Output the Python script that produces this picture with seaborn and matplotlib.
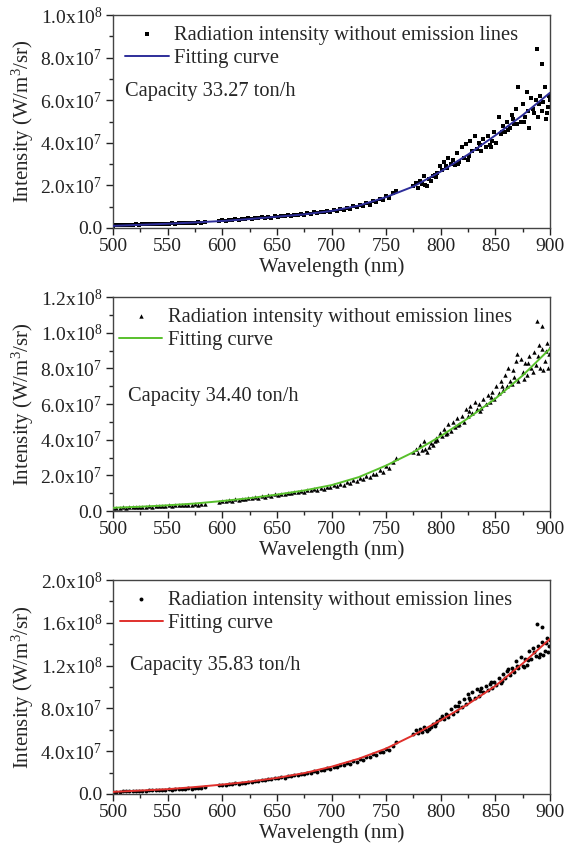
import matplotlib
matplotlib.use("Agg")
import matplotlib.pyplot as plt
from matplotlib.ticker import FixedLocator, FuncFormatter, MultipleLocator
import seaborn as sns
import pandas as pd

# ---------------- data (intensity in units of 1e7 W/m^3/sr) ----------------
wl_low = [500, 503, 506, 509, 512, 515, 518, 521, 524, 527, 530, 533, 536, 539, 542,
          545, 548, 551, 554, 557, 560, 563, 566, 569, 572, 575, 578, 581, 584]
wl_mid = [597, 600, 603, 606, 609, 612, 615, 618, 621, 624, 627, 630, 633, 636, 639,
          642, 645, 648, 651, 654, 657, 660, 663, 666, 669, 672, 675, 678, 681, 684,
          687, 690, 693, 696, 699, 702, 705, 708, 711, 714, 717, 720, 723, 726, 729,
          732, 735, 738, 741, 744, 747, 750, 753, 756, 759]
wl_high = [775, 777, 779, 781, 783, 785, 787, 789, 791, 793, 795, 797, 799, 801, 803,
           805, 807, 809, 811, 813, 815, 817, 819, 821, 823, 825, 827, 829, 831, 833,
           835, 837, 839, 841, 843, 845, 847, 849, 851, 853, 855, 857, 859, 861, 863,
           865, 867, 869, 871, 873, 875, 877, 879, 881, 883, 885, 887, 889, 891, 893,
           895, 897, 899]
wl_extra = [888, 893, 890, 894, 896, 898, 900, 880, 884, 876, 870, 866, 862, 856, 846,
            836, 826, 816, 806, 796, 786]

# Panel 1: capacity 33.27 ton/h
p1_low = [0.10, 0.13, 0.12, 0.15, 0.14, 0.16, 0.15, 0.17, 0.16, 0.18, 0.17, 0.19, 0.18, 0.20, 0.19,
          0.20, 0.21, 0.20, 0.22, 0.21, 0.23, 0.22, 0.24, 0.23, 0.25, 0.24, 0.26, 0.25, 0.27]
p1_mid = [0.32, 0.36, 0.34, 0.38, 0.36, 0.41, 0.38, 0.44, 0.42, 0.46, 0.43, 0.48, 0.45, 0.50, 0.47,
          0.52, 0.49, 0.55, 0.52, 0.57, 0.54, 0.60, 0.57, 0.63, 0.60, 0.66, 0.63, 0.70, 0.66, 0.73,
          0.70, 0.77, 0.73, 0.80, 0.76, 0.84, 0.80, 0.88, 0.85, 0.95, 0.90, 1.02, 0.97, 1.10, 1.03,
          1.18, 1.10, 1.28, 1.20, 1.38, 1.30, 1.50, 1.42, 1.65, 1.75]
p1_high = [1.95, 2.10, 1.90, 2.20, 2.05, 2.45, 1.95, 2.30, 2.20, 2.45, 2.50, 2.60, 2.90, 2.70, 3.10,
           2.90, 3.30, 3.00, 3.20, 2.95, 3.50, 3.10, 3.80, 3.30, 3.95, 3.20, 4.10, 3.60, 4.30, 3.70,
           4.00, 3.60, 4.20, 3.80, 4.30, 3.90, 4.10, 4.50, 4.00, 5.20, 4.40, 4.80, 4.50, 5.00, 4.70,
           5.30, 4.90, 5.60, 6.60, 5.00, 5.80, 5.20, 6.40, 4.70, 6.10, 5.40, 6.00, 5.20, 6.20, 5.50,
           6.60, 5.40, 6.20]
p1_extra = [8.40, 7.70, 5.80, 5.90, 5.10, 5.70, 6.00, 5.50, 5.60, 5.00, 4.90, 5.10, 4.60, 4.50, 3.80,
            3.90, 3.40, 3.00, 2.80, 2.40, 2.00]
p1_fit_wl = [500, 525, 550, 575, 600, 625, 650, 675, 700, 725, 750, 775, 800, 825, 850, 875, 900]
p1_fit = [0.10, 0.15, 0.20, 0.26, 0.33, 0.42, 0.53, 0.64, 0.80, 1.05, 1.45, 1.95, 2.65, 3.45, 4.35, 5.30, 6.35]

# Panel 2: capacity 34.40 ton/h
p2_low = [0.15, 0.19, 0.18, 0.20, 0.19, 0.22, 0.21, 0.23, 0.22, 0.25, 0.24, 0.26, 0.25, 0.28, 0.27,
          0.29, 0.28, 0.31, 0.30, 0.32, 0.31, 0.34, 0.33, 0.36, 0.35, 0.37, 0.36, 0.39, 0.40]
p2_mid = [0.50, 0.56, 0.55, 0.60, 0.58, 0.65, 0.62, 0.70, 0.67, 0.74, 0.71, 0.79, 0.75, 0.83, 0.80,
          0.88, 0.84, 0.93, 0.89, 0.98, 0.94, 1.03, 0.99, 1.08, 1.04, 1.13, 1.09, 1.19, 1.15, 1.25,
          1.20, 1.30, 1.26, 1.37, 1.32, 1.44, 1.40, 1.52, 1.48, 1.62, 1.56, 1.72, 1.66, 1.84, 1.77,
          1.96, 1.90, 2.10, 2.05, 2.30, 2.20, 2.50, 2.40, 2.75, 2.95]
p2_high = [3.30, 3.50, 3.25, 3.70, 3.40, 3.90, 3.30, 3.60, 3.80, 3.70, 3.90, 4.00, 4.40, 4.20, 4.60,
           4.30, 4.90, 4.50, 5.00, 4.70, 5.20, 4.90, 5.30, 5.00, 5.70, 5.30, 5.90, 5.50, 6.10, 5.70,
           6.00, 5.80, 6.30, 6.00, 6.50, 6.10, 6.70, 6.30, 7.00, 6.60, 7.30, 6.80, 7.60, 7.00, 7.30,
           7.10, 7.50, 8.40, 7.30, 8.50, 7.80, 8.30, 7.60, 8.70, 8.00, 8.90, 8.20, 8.70, 8.00, 9.10,
           8.40, 9.40, 8.80]
p2_extra = [10.65, 10.35, 9.30, 7.90, 9.00, 8.00, 9.20, 8.30, 7.80, 7.40, 8.80, 7.90, 8.00, 7.00, 6.40,
            5.60, 5.60, 4.80, 4.40, 4.10, 3.50]
p2_fit_wl = [500, 525, 550, 575, 600, 625, 650, 675, 700, 725, 750, 775, 800, 825, 850, 875, 900]
p2_fit = [0.18, 0.24, 0.32, 0.42, 0.56, 0.72, 0.92, 1.15, 1.45, 1.90, 2.55, 3.30, 4.20, 5.20, 6.30, 7.60, 9.10]

# Panel 3: capacity 35.83 ton/h
p3_low = [0.18, 0.22, 0.21, 0.25, 0.24, 0.27, 0.26, 0.30, 0.29, 0.32, 0.31, 0.35, 0.34, 0.37, 0.36,
          0.40, 0.39, 0.43, 0.42, 0.46, 0.45, 0.49, 0.48, 0.52, 0.51, 0.56, 0.55, 0.60, 0.63]
p3_mid = [0.80, 0.88, 0.86, 0.94, 0.92, 1.00, 0.98, 1.07, 1.05, 1.14, 1.12, 1.22, 1.20, 1.30, 1.28,
          1.38, 1.36, 1.47, 1.45, 1.56, 1.54, 1.66, 1.64, 1.77, 1.75, 1.88, 1.86, 2.00, 1.98, 2.13,
          2.10, 2.26, 2.24, 2.40, 2.37, 2.55, 2.52, 2.70, 2.68, 2.88, 2.85, 3.06, 3.03, 3.26, 3.22,
          3.48, 3.44, 3.72, 3.68, 3.95, 3.90, 4.20, 4.15, 4.50, 4.90]
p3_high = [5.60, 6.00, 5.70, 6.10, 5.80, 6.30, 5.90, 6.10, 6.30, 6.50, 6.40, 6.80, 7.00, 7.30, 7.00,
           7.50, 7.20, 7.90, 7.50, 8.20, 7.80, 8.60, 8.10, 8.90, 8.40, 9.30, 8.80, 9.50, 9.00, 9.80,
           9.20, 9.90, 9.50, 10.10, 9.70, 10.30, 9.90, 10.50, 10.20, 10.80, 10.40, 11.20, 10.80, 11.50, 11.10,
           11.80, 11.40, 12.40, 11.80, 12.80, 12.00, 12.60, 12.10, 13.40, 12.60, 13.30, 12.90, 13.80, 13.10, 14.20,
           13.40, 14.60, 13.80]
p3_extra = [15.90, 15.60, 12.80, 13.00, 14.10, 13.30, 14.40, 12.50, 13.60, 11.90, 12.00, 11.50, 11.70, 10.60, 10.50,
            9.60, 9.00, 8.20, 7.40, 6.60, 6.10]
p3_fit_wl = [500, 525, 550, 575, 600, 625, 650, 675, 700, 725, 750, 775, 800, 825, 850, 875, 900]
p3_fit = [0.20, 0.32, 0.45, 0.65, 0.88, 1.15, 1.50, 1.95, 2.55, 3.30, 4.25, 5.50, 6.90, 8.40, 10.10, 12.20, 14.50]

capacities = ["Capacity 33.27 ton/h", "Capacity 34.40 ton/h", "Capacity 35.83 ton/h"]
x_ticks = [500, 550, 600, 650, 700, 750, 800, 850, 900]
y_ticks = [[0.0, 2e7, 4e7, 6e7, 8e7, 1e8],
           [0.0, 2e7, 4e7, 6e7, 8e7, 1e8, 1.2e8],
           [0.0, 4e7, 8e7, 1.2e8, 1.6e8, 2e8]]
scatter_label = "Radiation intensity without emission lines"
fit_label = "Fitting curve"
SCALE = 1e7

# ---------------- styling ----------------
sns.set_theme(style="ticks")
plt.rcParams["font.family"] = ["Liberation Serif", "DejaVu Serif"]
plt.rcParams["mathtext.fontset"] = "custom"
plt.rcParams["mathtext.rm"] = "Liberation Serif"
plt.rcParams["mathtext.it"] = "Liberation Serif:italic"
plt.rcParams["mathtext.bf"] = "Liberation Serif:bold"

FS_TICK = 14
FS_LABEL = 15
FS_LEG = 14.8
FS_TEXT = 14.7
line_colors = ["#2e2e9a", "#58c02c", "#e0302c"]
markers = ["s", "^", "o"]
marker_sizes = [8, 10, 8]
text_pos = [(0.027, 0.64), (0.034, 0.535), (0.04, 0.60)]
legend_x = [0.0, -0.014, -0.013]

panels = [
    (p1_low + p1_mid + p1_high + p1_extra, p1_fit_wl, p1_fit),
    (p2_low + p2_mid + p2_high + p2_extra, p2_fit_wl, p2_fit),
    (p3_low + p3_mid + p3_high + p3_extra, p3_fit_wl, p3_fit),
]
wl_all = wl_low + wl_mid + wl_high + wl_extra

fig = plt.figure(figsize=(5.64, 8.52), dpi=100)
W, H = 564.0, 852.0
boxes = [(15, 228), (297, 511), (580, 794)]
left, right = 113, 550


def fmt(v, pos):
    if v == 0:
        return "0.0"
    exp = 0
    m = v
    while m >= 10:
        m /= 10.0
        exp += 1
    return r"%.1fx10$^{%d}$" % (m, exp)


for i, ((ys, fwl, fy), (top, bot)) in enumerate(zip(panels, boxes)):
    ax = fig.add_axes([left / W, 1 - bot / H, (right - left) / W, (bot - top) / H])
    df = pd.DataFrame({"wl": wl_all, "I": [v * SCALE for v in ys]})
    fdf = pd.DataFrame({"wl": fwl, "I": [v * SCALE for v in fy]})
    sns.scatterplot(data=df, x="wl", y="I", marker=markers[i], s=marker_sizes[i],
                    color="black", linewidth=0, ax=ax, label=scatter_label, zorder=2)
    sns.lineplot(data=fdf, x="wl", y="I", color=line_colors[i], lw=1.4, ax=ax,
                 label=fit_label, zorder=3)
    ax.set_xlim(500, 900)
    ax.set_ylim(y_ticks[i][0], y_ticks[i][-1])
    ax.xaxis.set_major_locator(FixedLocator(x_ticks))
    ax.xaxis.set_minor_locator(MultipleLocator(25))
    ax.yaxis.set_major_locator(FixedLocator(y_ticks[i]))
    step = y_ticks[i][1] - y_ticks[i][0]
    ax.yaxis.set_minor_locator(MultipleLocator(step / 2))
    ax.yaxis.set_major_formatter(FuncFormatter(fmt))
    ax.tick_params(axis="both", which="major", direction="out", length=5, width=1,
                   labelsize=FS_TICK, colors="#222222", top=False, right=False, pad=2.5)
    ax.tick_params(axis="both", which="minor", direction="out", length=3, width=1,
                   top=False, right=False)
    for sp in ax.spines.values():
        sp.set_visible(True)
        sp.set_color("#444444")
        sp.set_linewidth(1.0)
    ax.set_xlabel("Wavelength (nm)", fontsize=FS_LABEL, labelpad=1)
    ax.set_ylabel(r"Intensity (W/m$^{3}$/sr)", fontsize=FS_LABEL, labelpad=3)
    ax.text(text_pos[i][0], text_pos[i][1], capacities[i], transform=ax.transAxes,
            fontsize=FS_TEXT, va="center", ha="left")
    ax.legend(loc="upper left", bbox_to_anchor=(legend_x[i], 1.01), frameon=False,
              fontsize=FS_LEG, handlelength=2.1, handletextpad=0.25,
              labelspacing=0.2, borderaxespad=0.2, markerscale=1.0)

fig.savefig("out.png", dpi=100)
